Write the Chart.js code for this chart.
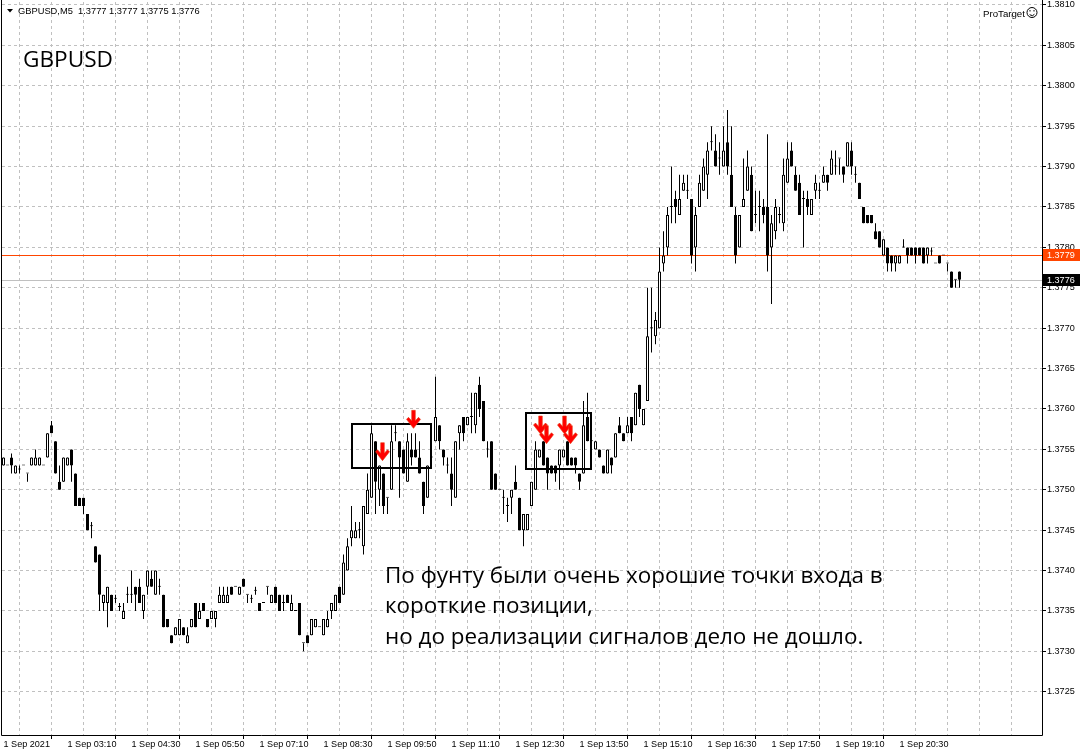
<!DOCTYPE html>
<html><head><meta charset="utf-8">
<script src="https://cdn.jsdelivr.net/npm/chart.js@4.4.1/dist/chart.umd.min.js"></script>
<style>html,body{margin:0;padding:0;background:#fff;overflow:hidden}canvas{display:block}</style>
</head><body>
<canvas id="c" width="1080" height="755"></canvas>
<script>
const symbolTitle = 'GBPUSD';
const headerText = 'GBPUSD,M5  1.3777 1.3777 1.3775 1.3776';
const brandText = 'ProTarget';
const timeLabels = ['1 Sep 2021','1 Sep 03:10','1 Sep 04:30','1 Sep 05:50','1 Sep 07:10','1 Sep 08:30','1 Sep 09:50','1 Sep 11:10','1 Sep 12:30','1 Sep 13:50','1 Sep 15:10','1 Sep 16:30','1 Sep 17:50','1 Sep 19:10','1 Sep 20:30'];
const barsPerLabel = 16;
const barsPerGrid = 8;
const priceTicks = [1.3725,1.3730,1.3735,1.3740,1.3745,1.3750,1.3755,1.3760,1.3765,1.3770,1.3775,1.3780,1.3785,1.3790,1.3795,1.3800,1.3805,1.3810];

const opens = [
1.3753,1.3753,1.3754,1.3752,1.37525,1.3753,1.3752,1.3753,1.3753,1.3753,
1.3753,1.3754,1.3758,1.3756,1.3751,1.3751,1.3753,1.3755,1.3752,1.3749,
1.3749,1.3747,1.37455,1.3743,1.3742,1.3736,1.3736,1.3737,1.37365,1.37355,
1.3734,1.3737,1.3737,1.3738,1.3738,1.3735,1.3738,1.3739,1.3737,1.3738,
1.3737,1.3734,1.3732,1.3732,1.3732,1.3733,1.3731,1.3733,1.3736,1.3734,
1.3736,1.3734,1.3734,1.3734,1.3736,1.3736,1.3736,1.3738,1.3738,1.3737,
1.3739,1.3737,1.37365,1.37375,1.3736,1.3736,1.3738,1.3736,1.3738,1.3737,
1.3736,1.3737,1.3735,1.3735,1.3736,1.3731,1.3732,1.3732,1.3733,1.3733,
1.3732,1.3733,1.3735,1.3735,1.3738,1.3737,1.3740,1.3744,1.3744,1.3745,
1.3743,1.3747,1.3749,1.3756,1.3750,1.3752,1.3749,1.3750,1.3757,1.3756,
1.3755,1.3751,1.3755,1.3755,1.3754,1.3751,1.3749,1.3754,1.3756,1.3758,
1.3755,1.3753,1.3752,1.3749,1.3757,1.3759,1.3758,1.3759,1.3758,1.3763,
1.3761,1.3755,1.3756,1.3752,1.3750,1.3749,1.3748,1.3749,1.3751,1.3749,
1.3745,1.3745,1.3748,1.3750,1.3754,1.3756,1.3754,1.3753,1.3753,1.3753,
1.3754,1.3756,1.3754,1.3754,1.3752,1.3752,1.3759,1.3756,1.3755,1.3755,
1.3753,1.3752,1.3754,1.3754,1.3758,1.3757,1.3757,1.3759,1.3758,1.3763,
1.3758,1.3761,1.3770,1.3769,1.3770,1.3778,1.3780,1.3785,1.3786,1.3784,
1.3787,1.3787,1.3786,1.3780,1.3785,1.3787,1.3789,1.3793,1.3792,1.3791,
1.3790,1.3793,1.3789,1.3784,1.3780,1.3785,1.3787,1.3789,1.3784,1.3785,
1.3785,1.3785,1.3780,1.3782,1.3784,1.3783,1.3788,1.3792,1.3789,1.3788,
1.3786,1.3786,1.3784,1.3787,1.3787,1.3788,1.3789,1.3789,1.3790,1.3791,
1.3790,1.3790,1.3792,1.3789,1.3788,1.3785,1.3784,1.3784,1.3782,1.3782,
1.3779,1.3780,1.3779,1.3778,1.3778,1.3780,1.3780,1.3780,1.3780,1.3780,
1.3780,1.3779,1.37795,1.3778,1.3779,1.3779,1.3778,1.3777,1.3776,1.3777];

const highs = [
1.3754,1.3753,1.37545,1.3753,1.3753,1.3753,1.3752,1.3754,1.3755,1.3754,
1.3753,1.3757,1.37585,1.3756,1.3753,1.3754,1.3754,1.3755,1.3752,1.3749,
1.3749,1.3747,1.3746,1.3743,1.3742,1.3737,1.3738,1.3737,1.3737,1.3736,
1.3736,1.3738,1.3740,1.3738,1.3739,1.3737,1.3740,1.3740,1.3740,1.3739,
1.3737,1.3734,1.3732,1.3733,1.3734,1.3733,1.3733,1.3734,1.3736,1.3736,
1.3736,1.3734,1.3735,1.3735,1.3738,1.3738,1.3738,1.3738,1.3738,1.3738,
1.3739,1.3737,1.3737,1.3738,1.3736,1.3736,1.3738,1.3737,1.3738,1.3737,
1.3737,1.3737,1.3737,1.3735,1.3736,1.3731,1.3732,1.3734,1.3734,1.3733,
1.3734,1.3735,1.3736,1.3737,1.3738,1.3742,1.3744,1.3748,1.3746,1.3746,
1.3748,1.3752,1.3758,1.3756,1.3753,1.3752,1.3749,1.3758,1.3758,1.3756,
1.3755,1.3757,1.3757,1.3757,1.3756,1.3751,1.3753,1.3755,1.3764,1.3758,
1.3755,1.3754,1.3754,1.3756,1.3758,1.3759,1.3759,1.3762,1.3762,1.3764,
1.3761,1.3756,1.3756,1.3752,1.3750,1.3750,1.3749,1.3750,1.3753,1.3749,
1.3747,1.3747,1.3751,1.3756,1.3755,1.3756,1.3754,1.3753,1.3753,1.3755,
1.3755,1.3756,1.3754,1.3754,1.3752,1.3761,1.3762,1.3757,1.3756,1.3755,
1.3753,1.3755,1.3754,1.3757,1.3759,1.3757,1.3759,1.3759,1.3762,1.3763,
1.3760,1.3775,1.3775,1.3772,1.3780,1.3782,1.3785,1.3790,1.3787,1.3789,
1.3789,1.3789,1.3786,1.3785,1.3789,1.3791,1.3793,1.3795,1.3794,1.3793,
1.3795,1.3797,1.3795,1.3785,1.3784,1.3791,1.3792,1.3790,1.3787,1.3787,
1.3786,1.3794,1.3784,1.3786,1.3785,1.3791,1.3793,1.3793,1.3790,1.3789,
1.3787,1.3787,1.3786,1.3789,1.3788,1.3790,1.3789,1.3792,1.3792,1.3791,
1.3790,1.3793,1.3793,1.3790,1.3788,1.3785,1.3784,1.3784,1.3783,1.3782,
1.3781,1.3780,1.3779,1.3779,1.3779,1.3781,1.3780,1.3780,1.3780,1.3780,
1.3780,1.3780,1.3780,1.3778,1.3779,1.3779,1.3778,1.3777,1.3776,1.3777];

const lows = [
1.3753,1.3753,1.3752,1.3752,1.3752,1.3753,1.3751,1.3753,1.3753,1.3753,
1.3753,1.3754,1.3757,1.3752,1.3750,1.3751,1.3753,1.3751,1.3748,1.3748,
1.3747,1.3745,1.3744,1.3741,1.3735,1.3735,1.3733,1.3735,1.3736,1.3735,
1.3734,1.3736,1.3736,1.3735,1.3736,1.3734,1.3737,1.3738,1.3737,1.3737,
1.3733,1.3733,1.3731,1.3732,1.3732,1.3732,1.3731,1.3733,1.3733,1.3734,
1.3735,1.3733,1.3734,1.3733,1.3736,1.3736,1.3736,1.3737,1.3738,1.3737,
1.3738,1.3736,1.3736,1.3737,1.3735,1.3736,1.3737,1.3736,1.3736,1.3735,
1.3735,1.3736,1.3735,1.3735,1.3732,1.3730,1.3731,1.3732,1.3733,1.3733,
1.3732,1.3733,1.3734,1.3735,1.3736,1.3737,1.3740,1.3743,1.3744,1.3744,
1.3742,1.3747,1.3749,1.3747,1.3748,1.3747,1.3747,1.3750,1.3756,1.3749,
1.3752,1.3751,1.3753,1.3754,1.3752,1.3747,1.3749,1.3753,1.3756,1.3755,
1.3753,1.3752,1.3748,1.3749,1.3755,1.3756,1.3758,1.3757,1.3757,1.3759,
1.3756,1.3754,1.3750,1.3750,1.3750,1.3747,1.3746,1.3747,1.3750,1.3745,
1.3743,1.3745,1.3748,1.3750,1.3754,1.3753,1.3750,1.3752,1.3751,1.3750,
1.3754,1.3753,1.3753,1.3752,1.3750,1.3752,1.3756,1.3754,1.3755,1.3754,
1.3752,1.3752,1.3752,1.3754,1.3757,1.3756,1.3757,1.3756,1.3758,1.3759,
1.3758,1.3761,1.3767,1.3768,1.3770,1.3777,1.3779,1.3783,1.3783,1.3784,
1.3787,1.3786,1.3778,1.3777,1.3785,1.3787,1.3786,1.3792,1.3790,1.3789,
1.3790,1.3789,1.3785,1.3778,1.3780,1.3785,1.3787,1.3782,1.3783,1.3782,
1.3783,1.3777,1.3773,1.3781,1.3783,1.3782,1.3788,1.3790,1.3787,1.3784,
1.3780,1.3784,1.3784,1.3786,1.3786,1.3788,1.3787,1.3789,1.3789,1.3789,
1.3788,1.3790,1.3789,1.3788,1.3786,1.3783,1.3783,1.3783,1.3781,1.3780,
1.3779,1.3777,1.3777,1.3777,1.3778,1.3780,1.3778,1.3779,1.3778,1.3779,
1.3778,1.3778,1.3779,1.3778,1.3778,1.3779,1.3777,1.3775,1.3775,1.3775];

const closes = [
1.3754,1.3753,1.3753,1.3753,1.37525,1.3753,1.3752,1.3754,1.3754,1.3754,
1.3753,1.3757,1.3757,1.3752,1.3750,1.3754,1.3754,1.3753,1.3748,1.3748,
1.3748,1.3745,1.37455,1.3741,1.3737,1.3737,1.3738,1.3735,1.37365,1.37355,
1.3735,1.3737,1.3737,1.3737,1.3736,1.3737,1.3740,1.3738,1.3740,1.3738,
1.3733,1.3733,1.3731,1.3733,1.3734,1.3732,1.3732,1.3734,1.3733,1.3735,
1.3735,1.3733,1.3735,1.3735,1.3737,1.3737,1.3737,1.3737,1.3738,1.3738,
1.3738,1.3737,1.37365,1.37375,1.3735,1.3736,1.3738,1.3737,1.3736,1.3735,
1.3736,1.3736,1.3736,1.3735,1.3732,1.3731,1.3731,1.3734,1.3734,1.3733,
1.3734,1.3734,1.3736,1.3737,1.3736,1.3741,1.3743,1.3745,1.3745,1.3745,
1.3748,1.3750,1.3757,1.3751,1.3753,1.3748,1.3749,1.3756,1.3757,1.3754,
1.3752,1.3756,1.3754,1.3754,1.3752,1.3748,1.3753,1.3754,1.3759,1.3756,
1.3754,1.3753,1.3750,1.3756,1.3758,1.3757,1.3759,1.3759,1.3762,1.3760,
1.3756,1.3755,1.3750,1.3750,1.3750,1.3749,1.3748,1.3750,1.3750,1.3745,
1.3747,1.3747,1.3751,1.3755,1.3755,1.3753,1.3752,1.3752,1.3752,1.3755,
1.3755,1.3753,1.3753,1.3753,1.3751,1.3758,1.3756,1.3756,1.3756,1.3754,
1.3752,1.3755,1.3753,1.3757,1.3757,1.3756,1.3758,1.3757,1.3762,1.3760,
1.3760,1.3769,1.3770,1.3771,1.3777,1.3779,1.3784,1.3785,1.3785,1.3786,
1.3788,1.3787,1.3779,1.3784,1.3788,1.3790,1.3792,1.3793,1.3790,1.3791,
1.3792,1.3790,1.3785,1.3779,1.3784,1.3786,1.3790,1.3782,1.3784,1.3785,
1.3784,1.3779,1.3783,1.3785,1.3784,1.3789,1.3791,1.3790,1.3787,1.3784,
1.3786,1.3785,1.3786,1.3788,1.3787,1.3789,1.3788,1.3791,1.3790,1.3791,
1.3789,1.3793,1.3790,1.3789,1.3786,1.3783,1.3783,1.3783,1.3781,1.3780,
1.3781,1.3778,1.3778,1.3779,1.3779,1.3780,1.3779,1.3779,1.3779,1.3779,
1.3778,1.3780,1.37795,1.3778,1.3778,1.3779,1.3778,1.3775,1.3776,1.3776];

const askPrice = 1.3779;
const bidPrice = 1.3776;
// annotation boxes: first bar, last bar, top price, bottom price
const boxFrom = [87.1, 130.6];
const boxTo = [106.9, 146.9];
const boxTop = [1.37581, 1.37595];
const boxBottom = [1.37527, 1.37526];
// red sell arrows: bar position and price at the arrow tip
const arrowBars = [94.6, 102.4, 134.0, 135.6, 140.0, 141.6];
const arrowTips = [1.37536, 1.37576, 1.37569, 1.37557, 1.37569, 1.37557];
const noteLines = ['По фунту были очень хорошие точки входа в', 'короткие позиции,', 'но до реализации сигналов дело не дошло.'];

const measureCtx = document.createElement('canvas').getContext('2d');
function fitSize(text, family, target) {
  measureCtx.font = '100px ' + family;
  return 100 * target / measureCtx.measureText(text).width;
}
const axisFamily = '"Liberation Sans", Arial, sans-serif';
const axisSize = Math.min(10, fitSize('1 Sep 03:10', axisFamily, 49));
const noteFamily = '"Open Sans", "Noto Sans", sans-serif';

const gridBars = [];
for (let b = 0; b <= 256; b += barsPerGrid) gridBars.push(b);

const bodyData = opens.map((o, i) => ({x: i, y: [o, closes[i]]}));
const wickData = opens.map((o, i) => ({x: i, y: [lows[i], highs[i]]}));

function drawArrow(ctx, x, tip) {
  ctx.beginPath();
  ctx.moveTo(x - 1.8, tip - 18);
  ctx.lineTo(x + 1.8, tip - 18);
  ctx.lineTo(x + 1.8, tip - 7.5);
  ctx.lineTo(x + 5, tip - 11);
  ctx.lineTo(x + 7, tip - 9);
  ctx.lineTo(x, tip);
  ctx.lineTo(x - 7, tip - 9);
  ctx.lineTo(x - 5, tip - 11);
  ctx.lineTo(x - 1.8, tip - 7.5);
  ctx.closePath();
  ctx.fillStyle = '#ff0000';
  ctx.fill();
  ctx.strokeStyle = '#e83a10';
  ctx.lineWidth = 0.6;
  ctx.stroke();
}

const overlay = {
  id: 'overlay',
  beforeDatasetsDraw(chart) {
    const {ctx, chartArea: a, scales: {y}} = chart;
    ctx.save();
    ctx.lineWidth = 1;
    const yb = Math.round(y.getPixelForValue(bidPrice)) + 0.5;
    ctx.strokeStyle = '#c0c0c0';
    ctx.beginPath(); ctx.moveTo(a.left, yb); ctx.lineTo(a.right, yb); ctx.stroke();
    const ya = Math.round(y.getPixelForValue(askPrice)) + 0.5;
    ctx.strokeStyle = '#ff4500';
    ctx.beginPath(); ctx.moveTo(a.left, ya); ctx.lineTo(a.right, ya); ctx.stroke();
    ctx.restore();
  },
  afterDatasetsDraw(chart) {
    const {ctx, scales: {x, y}} = chart;
    ctx.save();
    ctx.strokeStyle = '#000';
    ctx.lineWidth = 2;
    for (let k = 0; k < boxFrom.length; k++) {
      const x1 = Math.round(x.getPixelForValue(boxFrom[k])), x2 = Math.round(x.getPixelForValue(boxTo[k]));
      const y1 = Math.round(y.getPixelForValue(boxTop[k])), y2 = Math.round(y.getPixelForValue(boxBottom[k]));
      ctx.strokeRect(x1, y1, x2 - x1, y2 - y1);
    }
    for (let k = 0; k < arrowBars.length; k++) {
      drawArrow(ctx, Math.round(x.getPixelForValue(arrowBars[k])) + 0.5, y.getPixelForValue(arrowTips[k]));
    }
    ctx.restore();
  },
  afterDraw(chart) {
    const {ctx, chartArea: a, scales: {y}} = chart;
    ctx.save();
    ctx.strokeStyle = '#000'; ctx.lineWidth = 1;
    ctx.beginPath();
    ctx.moveTo(1.5, 0); ctx.lineTo(1.5, a.bottom + 0.5);
    ctx.lineTo(a.right + 0.5, a.bottom + 0.5); ctx.lineTo(a.right + 0.5, 0);
    ctx.stroke();
    const tags = [[askPrice, '#ff4500'], [bidPrice, '#000000']];
    ctx.font = axisSize + 'px ' + axisFamily;
    ctx.textBaseline = 'middle'; ctx.textAlign = 'left';
    for (const [p, col] of tags) {
      const py = Math.round(y.getPixelForValue(p));
      ctx.fillStyle = col;
      ctx.fillRect(a.right + 1, py - 6, 37, 12);
      ctx.fillStyle = '#ffffff';
      ctx.fillText(p.toFixed(4), a.right + 5, py + 0.5);
    }
    ctx.fillStyle = '#000';
    ctx.beginPath(); ctx.moveTo(7, 9); ctx.lineTo(13, 9); ctx.lineTo(10, 12.5); ctx.closePath(); ctx.fill();
    ctx.textBaseline = 'alphabetic';
    const hs = fitSize(headerText, axisFamily, 182);
    ctx.font = hs + 'px ' + axisFamily;
    ctx.fillText(headerText, 18, 14);
    const bs = fitSize(brandText, axisFamily, 42);
    ctx.font = bs + 'px ' + axisFamily;
    ctx.fillText(brandText, 983, 16.5);
    ctx.lineWidth = 1;
    ctx.beginPath(); ctx.arc(1032, 12.5, 5, 0, Math.PI * 2); ctx.stroke();
    ctx.fillRect(1029.5, 10, 1, 1.5); ctx.fillRect(1033.5, 10, 1, 1.5);
    ctx.beginPath(); ctx.arc(1032, 12.5, 3, 0.2 * Math.PI, 0.8 * Math.PI); ctx.stroke();
    const ts = fitSize(symbolTitle, noteFamily, 90);
    ctx.font = ts + 'px ' + noteFamily;
    ctx.fillText(symbolTitle, 23, 66.5);
    const ns = fitSize(noteLines[0], noteFamily, 498);
    ctx.font = ns + 'px ' + noteFamily;
    const bases = [582.5, 613, 643.5];
    noteLines.forEach((t, k) => ctx.fillText(t, 385, bases[k]));
    ctx.restore();
  }
};

const gridColor = '#c0c0c0';
new Chart(document.getElementById('c'), {
  type: 'bar',
  data: {
    datasets: [
      { data: bodyData, order: 0, grouped: false, barThickness: 3, borderWidth: 1, borderColor: '#000',
        backgroundColor: (c) => closes[c.dataIndex] > opens[c.dataIndex] ? '#ffffff' : '#000000',
        borderSkipped: false, minBarLength: 1, inflateAmount: 0 },
      { data: wickData, order: 1, grouped: false, barThickness: 1, borderWidth: 0,
        backgroundColor: '#000000', inflateAmount: 0 }
    ]
  },
  options: {
    responsive: false, animation: false, devicePixelRatio: 1,
    layout: { padding: { left: 2, top: 2, right: 0, bottom: 0 } },
    plugins: { legend: { display: false }, tooltip: { enabled: false } },
    scales: {
      x: {
        type: 'linear', min: -0.375, max: 259.625, offset: false,
        afterBuildTicks: (s) => { s.ticks = gridBars.map(v => ({ value: v })); },
        afterFit: (s) => { s.height = 20; s.paddingLeft = 0; s.paddingRight = 0; },
        grid: { color: gridColor, lineWidth: 1, tickLength: 4, tickBorderDash: [], tickWidth: 1,
          tickColor: (c) => (c.tick && c.tick.value % barsPerLabel === 0 && c.tick.value / barsPerLabel < timeLabels.length) ? '#000' : 'rgba(0,0,0,0)' },
        border: { display: false, dash: [3, 3] },
        ticks: { autoSkip: false, maxRotation: 0, minRotation: 0, align: 'start', padding: 0, color: '#000',
          font: { family: axisFamily, size: axisSize },
          callback: (v) => (v % barsPerLabel === 0 && timeLabels[v / barsPerLabel]) ? timeLabels[v / barsPerLabel] : '' }
      },
      y: {
        type: 'linear', position: 'right', min: 1.371965, max: 1.381037,
        afterBuildTicks: (s) => { s.ticks = priceTicks.map(v => ({ value: v })); },
        afterFit: (s) => { s.width = 38; s.paddingTop = 0; s.paddingBottom = 0; },
        grid: { color: gridColor, lineWidth: 1, tickLength: 4, tickBorderDash: [], tickColor: '#000', tickWidth: 1 },
        border: { display: false, dash: [3, 3] },
        ticks: { padding: 1, color: '#000', font: { family: axisFamily, size: axisSize },
          callback: (v) => Number(v).toFixed(4) }
      }
    }
  },
  plugins: [overlay]
});
</script>
</body></html>
